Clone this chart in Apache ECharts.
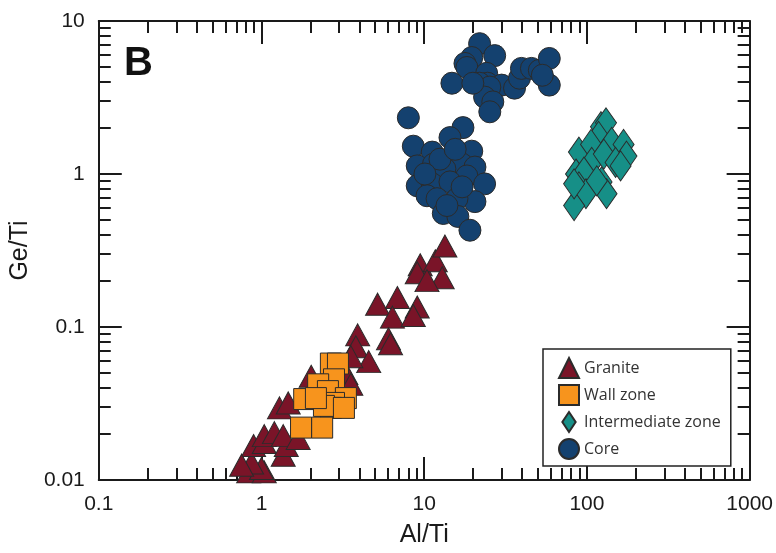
<!DOCTYPE html>
<html><head><meta charset="utf-8">
<script src="https://cdn.jsdelivr.net/npm/echarts@6/dist/echarts.min.js"></script>
<style>html,body{margin:0;padding:0;background:#fff}#c{width:776px;height:553px}</style>
</head><body><div id="c"></div>
<script>
// ---- data ----
const graniteX = [0.834,1.04,1.0,0.869,1.36,0.894,1.04,1.42,1.04,1.20,1.36,1.68,1.29,1.46,2.02,3.30,3.54,3.90,3.80,4.56,3.54,5.17,6.84,6.38,9.06,8.57,6.03,6.21,9.45,11.7,9.06,12.9,10.4,13.4,2.32,0.755];
const graniteY = [0.0113,0.0113,0.0119,0.0129,0.0145,0.0168,0.0176,0.0168,0.0195,0.0204,0.0195,0.0187,0.0296,0.0319,0.0476,0.0497,0.0422,0.0888,0.0743,0.0594,0.064,0.141,0.156,0.116,0.135,0.119,0.0837,0.0777,0.255,0.271,0.226,0.210,0.201,0.338,0.0381,0.0125];
const wallX = [2.67,2.95,2.79,2.23,1.83,2.56,3.30,2.79,2.67,2.42,1.75,2.36,2.16,3.21];
const wallY = [0.0577,0.0577,0.0455,0.0422,0.0338,0.0381,0.0343,0.0319,0.0296,0.0305,0.022,0.022,0.0343,0.0296];
const interX = [122,131,118,142,168,175,89.3,106,107,127,150,85.7,95.9,123,89.3,98.6,83.4,132,115,161,83.4];
const interY = [2.04,2.16,1.76,1.61,1.56,1.31,1.39,1.56,1.19,1.35,1.19,1.0,1.03,0.888,0.824,0.743,0.622,0.743,0.901,1.13,0.862];
const coreX = [21.9,27.1,19.6,17.8,18.3,14.8,24.2,24.5,21.9,29.9,25.3,23.5,26.4,25.3,35.9,38.5,39.6,45.6,51.0,58.7,58.7,53.2,19.9,
  7.99,17.3,14.4,8.57,11.2,19.6,9.06,11.4,17.1,20.5,13.4,18.3,23.5,9.06,11.2,14.4,10.4,12.0,20.5,15.9,13.1,16.1,19.1,13.8,17.1,12.5,15.5,10.1];
const coreY = [7.11,5.94,5.77,5.28,4.97,3.92,4.55,3.92,3.92,3.81,3.70,3.18,2.96,2.55,3.64,4.23,4.90,4.90,4.76,5.69,3.81,4.42,3.92,
  2.33,2.01,1.73,1.52,1.39,1.41,1.13,1.16,1.16,1.11,1.08,0.971,0.862,0.837,0.862,0.888,0.721,0.690,0.660,0.690,0.552,0.528,0.429,0.622,0.824,1.25,1.45,1.0];
const seriesNames = ['Granite','Wall zone','Intermediate zone','Core'];
const xMajorTicks = [0.1,1,10,100,1000];
const yMajorTicks = [0.01,0.1,1,10];
const xMinorTicks = [];
[0.1,1,10,100].forEach(d=>{for(let k=2;k<=9;k++) xMinorTicks.push(+(d*k).toPrecision(3));});
const yMinorTicks = [];
[0.01,0.1,1].forEach(d=>{for(let k=2;k<=9;k++) yMinorTicks.push(+(d*k).toPrecision(3));});

const zip = (a,b)=>a.map((v,i)=>[v,b[i]]);
const FONT = '"Liberation Sans", Arial, sans-serif';
const INK = '#1a1a1a';

function axisDef(kind, pos, major, extra){
  const isMajor = kind==='major';
  return Object.assign({
    type:'log', logBase:10, position:pos,
    axisLine:{show:isMajor, onZero:false, lineStyle:{color:INK, width:2}},
    axisTick:{show:true, inside:true, length:isMajor?23:12, customValues: isMajor?major.ticks:major.minor,
      lineStyle:{color:INK, width:2}},
    axisLabel:{show:false},
    splitLine:{show:false}, minorTick:{show:false}, minorSplitLine:{show:false}
  }, extra||{});
}
const xm = {ticks:xMajorTicks, minor:xMinorTicks};
const ym = {ticks:yMajorTicks, minor:yMinorTicks};
const labelStyle = (vals)=>({show:true, customValues: vals, fontFamily:FONT, fontSize:21, color:INK, margin:14,
  formatter:v=>String(+v.toPrecision(3))});

const xAxes = [
  axisDef('major','bottom',xm,{min:0.1,max:1000, axisLabel:labelStyle(xMajorTicks),
    name:'Al/Ti', nameLocation:'middle', nameGap:43, nameTextStyle:{fontFamily:FONT, fontSize:25, color:INK}}),
  axisDef('minor','bottom',xm,{min:0.1,max:1000}),
  axisDef('major','top',xm,{min:0.1,max:1000}),
  axisDef('minor','top',xm,{min:0.1,max:1000})
];
const yAxes = [
  axisDef('major','left',ym,{min:0.01,max:10, axisLabel:labelStyle(yMajorTicks),
    name:'Ge/Ti', nameLocation:'middle', nameGap:46, nameRotate:90, nameTextStyle:{fontFamily:FONT, fontSize:25, color:INK}}),
  axisDef('minor','left',ym,{min:0.01,max:10}),
  axisDef('major','right',ym,{min:0.01,max:10}),
  axisDef('minor','right',ym,{min:0.01,max:10})
];

const border = {borderColor:'#2b2b2b', borderWidth:1};
const option = {
  animation:false,
  backgroundColor:'#fff',
  grid:{left:96, top:21, right:24, bottom:68, containLabel:false},
  xAxis:xAxes, yAxis:yAxes,
  legend:{
    orient:'vertical', left:543, top:349,
    padding:[8,10,6,15], itemGap:5, itemWidth:20, itemHeight:20,
    borderColor:'#222', borderWidth:1.5, backgroundColor:'#fff',
    textStyle:{fontFamily:'"Open Sans", sans-serif', fontSize:16, color:'#333'},
    data:[
      {name:seriesNames[0], icon:'triangle'},
      {name:seriesNames[1], icon:'rect'},
      {name:seriesNames[2], icon:'path://M8,0 L16,12 L8,24 L0,12 Z'},
      {name:seriesNames[3], icon:'circle'}
    ]
  },
  graphic:[{type:'text', left:124, top:44, style:{text:'B', fontFamily:FONT, fontWeight:'bold', fontSize:40, fill:'#111'}}],
  series:[
    {name:seriesNames[0], type:'scatter', xAxisIndex:0, yAxisIndex:0, symbol:'triangle', symbolSize:[24,22],
      itemStyle:Object.assign({color:'#7a1428', opacity:1}, border), data:zip(graniteX, graniteY)},
    {name:seriesNames[1], type:'scatter', xAxisIndex:0, yAxisIndex:0, symbol:'rect', symbolSize:21,
      itemStyle:Object.assign({color:'#f7941d', opacity:1}, border), data:zip(wallX, wallY)},
    {name:seriesNames[2], type:'scatter', xAxisIndex:0, yAxisIndex:0, symbol:'diamond', symbolSize:[21,30],
      itemStyle:Object.assign({color:'#168f87', opacity:1}, border), data:zip(interX, interY)},
    {name:seriesNames[3], type:'scatter', xAxisIndex:0, yAxisIndex:0, symbol:'circle', symbolSize:22,
      itemStyle:Object.assign({color:'#14416f', opacity:1}, border), data:zip(coreX, coreY)}
  ]
};
const chart = echarts.init(document.getElementById('c'), null, {renderer:'canvas'});
chart.setOption(option);
</script>
</body></html>
